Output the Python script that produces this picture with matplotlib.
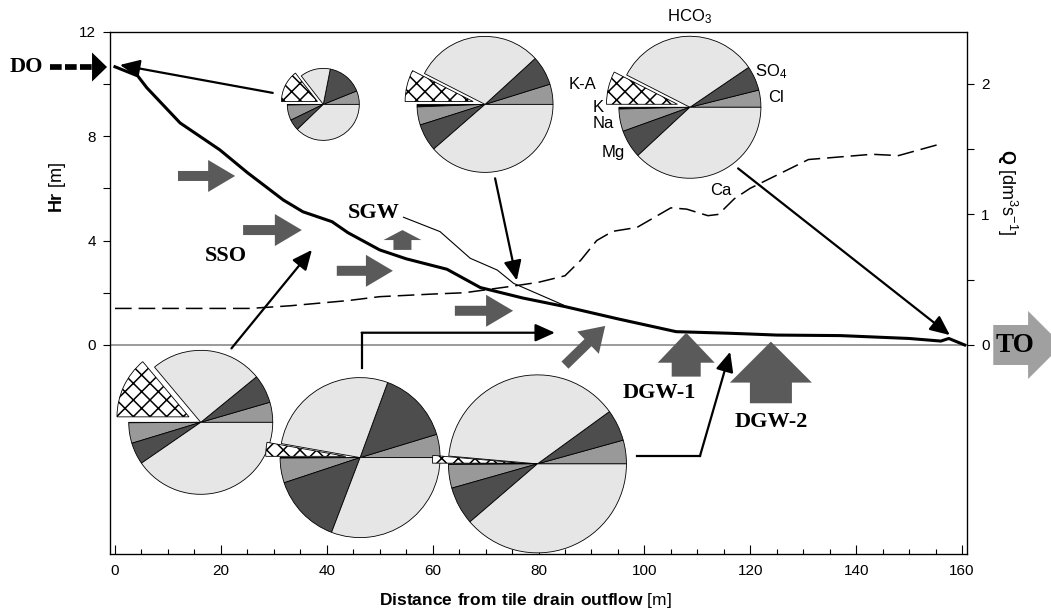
import numpy as np
import matplotlib.pyplot as plt
from matplotlib.patches import FancyArrowPatch

plt.rcParams['font.family'] = 'Liberation Sans'
plt.rcParams['mathtext.fontset'] = 'custom'
plt.rcParams['mathtext.rm'] = 'Liberation Sans'
plt.rcParams['mathtext.bf'] = 'Liberation Sans:bold'
plt.rcParams['mathtext.default'] = 'regular'
plt.rcParams['hatch.linewidth'] = 1.1
plt.rcParams['lines.scale_dashes'] = False

# hydraulic head in the drain, Hr [m]
dist_hr = [0, 4.3, 6, 12.3, 19.8, 25, 31.8, 35.5, 41, 44, 50, 55, 62.7, 69, 77,
           85, 95, 106, 116, 120, 125, 137, 150, 156, 157.5, 160.5]
hr = [10.65, 10.3, 9.85, 8.5, 7.47, 6.6, 5.55, 5.1, 4.72, 4.3, 3.64, 3.3, 2.9,
      2.2, 1.8, 1.47, 1.0, 0.51, 0.45, 0.42, 0.38, 0.36, 0.25, 0.15, 0.25, 0.0]

# shallow groundwater level (thin line)
dist_sgw = [54.5, 61.4, 67.1, 72.2, 75.3, 84.7]
sgw = [4.89, 4.34, 3.32, 2.87, 2.36, 1.53]

# discharge Q [dm3 s-1]
dist_q = [0, 16, 25.5, 33, 44, 50, 60, 66, 75, 80, 85, 88, 91, 94, 98.6, 105,
          108, 112, 114, 117, 120, 125, 131, 137, 143, 148, 156]
q = [0.28, 0.28, 0.28, 0.30, 0.34, 0.37, 0.39, 0.40, 0.45, 0.48, 0.53, 0.65,
     0.80, 0.87, 0.90, 1.05, 1.04, 0.99, 1.0, 1.12, 1.2, 1.3, 1.42, 1.44, 1.46,
     1.45, 1.54]

# ion composition, meq %
ions = ['Cl', 'SO4', 'HCO3', 'K-A', 'K', 'Na', 'Mg', 'Ca']
ion_colors = ['#999999', '#4d4d4d', '#e6e6e6', 'white',
              'black', '#999999', '#4d4d4d', '#e6e6e6']
pie_do = [6.1, 15.8, 13.6, 14.5, 0.3, 6.9, 5.0, 37.8]
pie_sgw = [4.8, 7.0, 30.7, 7.5, 0.6, 4.3, 6.5, 38.6]
pie_to = [3.9, 5.6, 33.0, 7.5, 0.4, 5.1, 6.4, 38.1]
pie_sso = [4.5, 6.4, 25.2, 13.9, 0.1, 4.6, 4.9, 40.4]
pie_dgw1 = [4.7, 14.7, 27.8, 2.8, 0.1, 5.0, 14.1, 30.8]
pie_dgw2 = [4.3, 5.7, 38.6, 1.4, 0.1, 4.3, 6.9, 38.7]

W, H = 1051, 613
L, R, T, B = 110, 967, 31.5, 554
xlim = (-0.94, 160.94)
ylim = (-8, 12)

fig = plt.figure(figsize=(W / 100, H / 100), dpi=100)
ax = fig.add_axes([L / W, 1 - B / H, (R - L) / W, (B - T) / H])
ax.set_xlim(xlim)
ax.set_ylim(ylim)
px_x = (R - L) / (xlim[1] - xlim[0])
px_y = (B - T) / (ylim[1] - ylim[0])

ax.axhline(0, color='#808080', lw=1.1, zorder=1)
ax.plot(dist_hr, hr, color='k', lw=2.2, zorder=3)
ax.plot(dist_sgw, sgw, color='k', lw=0.8, zorder=3)

ax.set_xticks(range(0, 161, 20))
ax.set_xticks(range(0, 161, 5), minor=True)
ax.tick_params(axis='x', which='major', direction='in', length=6.5, width=0.8,
               labelsize=11, pad=7)
ax.tick_params(axis='x', which='minor', direction='in', length=3.6, width=0.8)
ax.set_yticks(range(0, 13, 2))
ax.set_yticklabels(['0', '', '4', '', '8', '', '12'])
ax.tick_params(axis='y', direction='out', length=5, width=0.8, labelsize=11, pad=5)
for s in ax.spines.values():
    s.set_linewidth(0.9)

ax.set_xlabel(r'$\mathbf{Distance\ from\ tile\ drain\ outflow}$ [m]', fontsize=12.5,
              ha='center', va='center')
ax.xaxis.set_label_coords((525 - L) / (R - L), (B - 601) / (B - T))
ax.set_ylabel(r'$\mathbf{Hr}$ [m]', fontsize=13, rotation=90, ha='center', va='center')
ax.yaxis.set_label_coords((57.5 - L) / (R - L), (B - 188) / (B - T))

ax2 = ax.twinx()
ax2.set_ylim(-1.6, 2.4)
ax2.plot(dist_q, q, color='k', lw=1.1, dashes=(12, 5))
ax2.set_yticks([0, 0.5, 1, 1.5, 2])
ax2.set_yticklabels(['0', '', '1', '', '2'])
ax2.tick_params(axis='y', direction='out', length=5, width=0.8, labelsize=11, pad=5)
ax2.set_ylabel(r'$\mathbf{Q}$ [dm$^{3}$s$^{-1}$]', fontsize=13, rotation=270,
               ha='center', va='center')
ax2.yaxis.set_label_coords((1007 - L) / (R - L), (B - 192) / (B - T))


def draw_pie(cx, cy, r, vals):
    # r is the pie radius in pixels
    w = 2.6 * r / px_x
    h = 2.6 * r / px_y
    ia = ax.inset_axes([cx - w / 2, cy - h / 2, w, h], transform=ax.transData)
    explode = [0.18 if n == 'K-A' else 0 for n in ions]
    wedges, _ = ia.pie(vals, colors=ion_colors, explode=explode, startangle=0,
                       counterclock=True, radius=1,
                       wedgeprops=dict(edgecolor='k', linewidth=0.6))
    wedges[ions.index('K-A')].set_hatch('xx')
    ia.set_xlim(-1.3, 1.3)
    ia.set_ylim(-1.3, 1.3)
    ia.axis('off')
    return ia


draw_pie(39.35, 9.21, 36, pie_do)
draw_pie(69.9, 9.21, 68, pie_sgw)
draw_pie(108.6, 9.10, 71, pie_to)
draw_pie(16.2, -2.96, 72, pie_sso)
draw_pie(46.3, -4.31, 80, pie_dgw1)
draw_pie(79.8, -4.55, 89, pie_dgw2)

# ion labels next to the upper right pie
lab_kw = dict(fontsize=12, clip_on=False, va='center')
ax.text(108.6, 12.56, 'HCO$_3$', ha='center', **lab_kw)
ax.text(120.9, 10.45, 'SO$_4$', ha='left', **lab_kw)
ax.text(123.3, 9.49, 'Cl', ha='left', **lab_kw)
ax.text(85.6, 9.99, 'K-A', ha='left', **lab_kw)
ax.text(90.3, 9.11, 'K', ha='left', **lab_kw)
ax.text(90.3, 8.46, 'Na', ha='left', **lab_kw)
ax.text(92.0, 7.35, 'Mg', ha='left', **lab_kw)
ax.text(112.4, 5.93, 'Ca', ha='left', **lab_kw)


def block_arrow(p0, p1, hl, hw, tw, color='#5a5a5a'):
    # sizes in pixels (mutation_scale 0.72 pt == 1 px at 100 dpi)
    a = FancyArrowPatch(p0, p1, arrowstyle=f'simple,head_length={hl},head_width={hw},tail_width={tw}',
                        mutation_scale=0.72, color=color, lw=0, shrinkA=0, shrinkB=0,
                        clip_on=False, zorder=4)
    ax.add_patch(a)


block_arrow((11.9, 6.47), (22.7, 6.47), 27, 32, 10)
block_arrow((24.2, 4.40), (35.3, 4.40), 27, 32, 10)
block_arrow((41.9, 2.84), (52.5, 2.84), 27, 32, 10)
block_arrow((64.2, 1.31), (75.2, 1.31), 27, 32, 10)
block_arrow((85.0, -0.77), (92.6, 0.73), 24, 31, 10)
block_arrow((54.3, 3.64), (54.3, 4.40), 10, 38, 18)
block_arrow((107.9, -1.21), (107.9, 0.47), 30, 57, 29)
block_arrow((123.9, -2.23), (123.9, 0.13), 41, 82, 42)
block_arrow((165.9, 0.0), (178.9, 0.0), 34, 68, 40, color='#a0a0a0')

# DO dashed arrow
ax.plot([-12.3, -4.4], [10.64, 10.64], color='k', lw=4.1, dashes=(8.4, 2.4),
        solid_capstyle='butt', dash_capstyle='butt', clip_on=False)
block_arrow((-4.4, 10.64), (-1.5, 10.64), 15, 29, 0, color='k')

# thin black arrows from pies
arr_kw = dict(arrowstyle='-|>,head_length=1.0,head_width=0.45', mutation_scale=12,
              lw=1.6, color='k', shrinkA=0, shrinkB=0)
ax.annotate('', xy=(0.94, 10.72), xytext=(29.8, 9.65), arrowprops=arr_kw)
ax.annotate('', xy=(75.9, 2.47), xytext=(71.8, 6.38), arrowprops=arr_kw)
ax.annotate('', xy=(157.7, 0.38), xytext=(117.7, 6.76), arrowprops=arr_kw)
ax.annotate('', xy=(37.2, 3.64), xytext=(22.0, -0.13), arrowprops=arr_kw)
ax.plot([46.6, 46.6], [-0.88, 0.47], color='k', lw=1.6)
ax.annotate('', xy=(83.1, 0.47), xytext=(46.6, 0.47), arrowprops=arr_kw)
ax.plot([98.6, 110.5], [-4.25, -4.25], color='k', lw=1.6)
ax.annotate('', xy=(116.2, -0.26), xytext=(110.5, -4.25), arrowprops=arr_kw)

# flow component labels
bkw = dict(family='Liberation Serif', fontweight='bold', fontsize=16,
           ha='center', va='center', clip_on=False, zorder=6)
ax.text(-16.8, 10.64, 'DO', **bkw)
ax.text(20.9, 3.41, 'SSO', **bkw)
ax.text(48.9, 5.05, 'SGW', **bkw)
ax.text(102.9, -1.84, 'DGW-1', **bkw)
ax.text(123.9, -2.95, 'DGW-2', **bkw)
ax.text(170.0, 0.0, 'TO', **dict(bkw, fontsize=19.5))

fig.savefig('out.png', dpi=100)
